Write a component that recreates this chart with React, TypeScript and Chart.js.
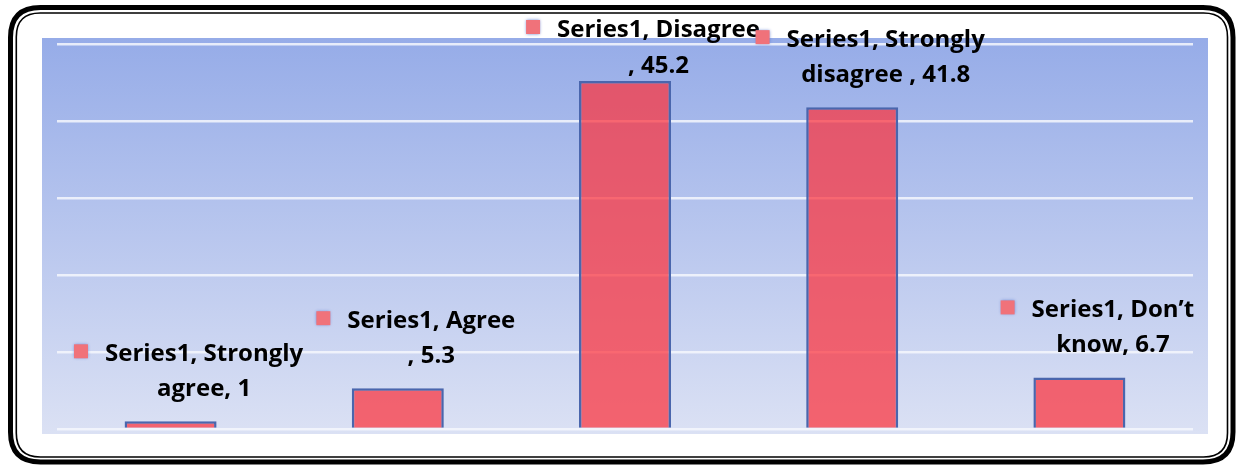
import React, { useEffect, useRef } from "react";
import { Chart, registerables } from "chart.js";

Chart.register(...registerables);

const seriesName = "Series1";
const categories = ["Strongly agree", "Agree ", "Disagree ", "Strongly disagree ", "Don\u2019t know"];
const values = [1, 5.3, 45.2, 41.8, 6.7];
const yMin = 0;
const yMax = 50;
const yStep = 10;

const W = 1238;
const H = 465;
const FONT = "bold 24px 'Open Sans', Lato, sans-serif";

function labelLines(cat: string, v: number): [string, string] {
  const trimmed = cat.replace(/^\s+/, "");
  const idx = trimmed.indexOf(" ");
  const first = idx >= 0 ? trimmed.slice(0, idx) : trimmed;
  const rest = idx >= 0 ? trimmed.slice(idx + 1) : "";
  return [`${seriesName}, ${first}`, `${rest}, ${v}`.trim()];
}

function roundRect(ctx: CanvasRenderingContext2D, x: number, y: number, w: number, h: number, r: number) {
  ctx.beginPath();
  ctx.moveTo(x + r, y);
  ctx.lineTo(x + w - r, y);
  ctx.quadraticCurveTo(x + w, y, x + w, y + r);
  ctx.lineTo(x + w, y + h - r);
  ctx.quadraticCurveTo(x + w, y + h, x + w - r, y + h);
  ctx.lineTo(x + r, y + h);
  ctx.quadraticCurveTo(x, y + h, x, y + h - r);
  ctx.lineTo(x, y + r);
  ctx.quadraticCurveTo(x, y, x + r, y);
  ctx.closePath();
}

const framePlugin = {
  id: "frameBg",
  beforeDraw(chart: any) {
    const { ctx, chartArea } = chart;
    ctx.save();
    ctx.fillStyle = "#ffffff";
    ctx.fillRect(0, 0, W, H);
    ctx.strokeStyle = "#000000";
    ctx.lineWidth = 5;
    roundRect(ctx, 10.5, 7.5, W - 10.5 - 5, H - 7.5 - 3, 30);
    ctx.stroke();
    ctx.lineWidth = 1.6;
    roundRect(ctx, 16.3, 13, W - 16.3 - 10.5, H - 13 - 8, 24);
    ctx.stroke();
    const bx = chartArea.left - 15;
    const by = chartArea.top - 6;
    const bw = chartArea.right - chartArea.left + 30;
    const bh = chartArea.bottom - chartArea.top + 11;
    const g = ctx.createLinearGradient(0, by, 0, by + bh);
    g.addColorStop(0, "#96ace8");
    g.addColorStop(1, "#dbe1f4");
    ctx.fillStyle = g;
    ctx.fillRect(bx, by, bw, bh);
    ctx.restore();
  },
};

const labelPlugin = {
  id: "barLabels",
  afterDatasetsDraw(chart: any) {
    const { ctx } = chart;
    const meta = chart.getDatasetMeta(0);
    ctx.save();
    ctx.font = FONT;
    ctx.textBaseline = "middle";
    ctx.textAlign = "left";
    const lineH = 35;
    const keySize = 14;
    const keyGap = 17;
    meta.data.forEach((bar: any, i: number) => {
      const [l1, l2] = labelLines(categories[i], values[i]);
      const w1 = ctx.measureText(l1).width;
      const w2 = ctx.measureText(l2).width;
      const blockW = keySize + keyGap + w1;
      const blockCx = bar.x + 18;
      const left = blockCx - blockW / 2;
      const textLeft = left + keySize + keyGap;
      const textCx = textLeft + w1 / 2;
      let y2 = bar.y - 32;
      let y1 = y2 - lineH;
      if (y1 < 30) {
        y1 = 30;
        y2 = y1 + 36;
      }
      ctx.save();
      ctx.shadowColor = "rgba(90,120,210,0.9)";
      ctx.shadowBlur = 3;
      ctx.fillStyle = "#f0727a";
      ctx.fillRect(left, y1 - 3 - keySize / 2, keySize, keySize);
      ctx.restore();
      ctx.fillStyle = "#000000";
      ctx.fillText(l1, textLeft, y1);
      ctx.fillText(l2, textCx - w2 / 2, y2);
    });
    ctx.restore();
  },
};

export default function App() {
  const ref = useRef<HTMLCanvasElement | null>(null);
  useEffect(() => {
    if (!ref.current) return;
    const chart = new Chart(ref.current, {
      type: "bar",
      data: {
        labels: categories,
        datasets: [
          {
            label: seriesName,
            data: values,
            backgroundColor: "rgba(252,50,60,0.72)",
            borderColor: "#4a66ad",
            borderWidth: 2.5,
            barPercentage: 0.405,
            categoryPercentage: 1,
          },
        ],
      },
      options: {
        responsive: false,
        animation: false,
        layout: { padding: { left: 57, right: 45, top: 44, bottom: 36 } },
        plugins: {
          legend: { display: false },
          tooltip: { enabled: false },
          title: { display: false },
        },
        scales: {
          x: { display: false },
          y: {
            min: yMin,
            max: yMax,
            ticks: { display: false, stepSize: yStep },
            grid: { color: "rgba(245,247,253,0.85)", lineWidth: 2.5, drawTicks: false },
            border: { display: false },
          },
        },
      },
      plugins: [framePlugin, labelPlugin],
    });
    return () => chart.destroy();
  }, []);
  return (
    <div style={{ position: "fixed", left: 0, top: 0, width: W, height: H }}>
      <canvas ref={ref} width={W} height={H} style={{ width: W, height: H }} />
    </div>
  );
}
